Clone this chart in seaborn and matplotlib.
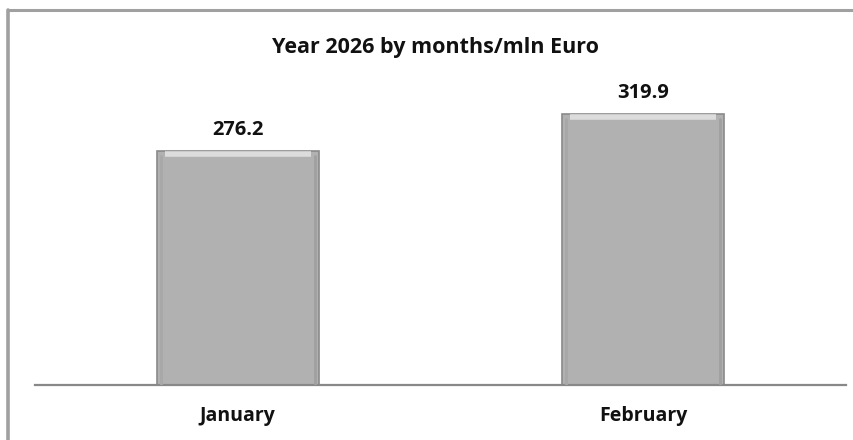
import matplotlib
matplotlib.use('Agg')
import numpy as np
import pandas as pd
import seaborn as sns
import matplotlib.pyplot as plt
from matplotlib.lines import Line2D

months = ['January', 'February']
values = [276.2, 319.9]
title = 'Year 2026 by months/mln Euro'

sns.set_style('white')
plt.rcParams['font.family'] = ['Open Sans', 'DejaVu Sans']

df = pd.DataFrame({'month': months, 'value': values})

fig = plt.figure(figsize=(8.54, 4.40), dpi=100)
ax = fig.add_axes([0.041, 0.125, 0.9496, 0.7386])

sns.barplot(data=df, x='month', y='value', color='#b1b1b1', width=0.4,
            saturation=1, edgecolor='#8a8a8a', linewidth=1.2, ax=ax)

# soft bevel on top and sides of each bar
for bar in ax.patches:
    x0, y1 = bar.get_x(), bar.get_height()
    w = bar.get_width()
    ax.plot([x0 + w * 0.05, x0 + w * 0.95], [y1 - 4, y1 - 4], color='#dcdcdc',
            lw=4, solid_capstyle='butt', zorder=3)
    ax.plot([x0 + w * 0.025, x0 + w * 0.025], [1, y1 - 6], color='#a8a8a8',
            lw=2, zorder=3)
    ax.plot([x0 + w * 0.975, x0 + w * 0.975], [1, y1 - 6], color='#a0a0a0',
            lw=2, zorder=3)

for i, v in enumerate(values):
    ax.text(i, v + 13, f'{v:.1f}', ha='center', va='bottom',
            fontsize=14.5, fontweight='bold', color='#111111')

ax.set_ylim(0, 383.7)
ax.set_xlim(-0.5, 1.5)
ax.set_xlabel('')
ax.set_ylabel('')
ax.set_yticks([])
ax.tick_params(axis='x', length=0, pad=15, labelsize=14)
for lab in ax.get_xticklabels():
    lab.set_fontweight('bold')
    lab.set_color('#111111')
sns.despine(ax=ax, left=True, top=True, right=True)
ax.spines['bottom'].set_color('#888888')
ax.spines['bottom'].set_linewidth(1.6)

fig.text(0.51, 0.893, title, ha='center', va='center', fontsize=15.5,
         fontweight='bold', color='#111111')

# outer frame lines
fig.add_artist(Line2D([0.0094, 1.0], [0.978, 0.978], color='#a0a0a0', lw=2.2))
fig.add_artist(Line2D([0.0094, 0.0094], [0.0, 0.978], color='#a0a0a0', lw=2.6))

fig.savefig('out.png', dpi=100)
